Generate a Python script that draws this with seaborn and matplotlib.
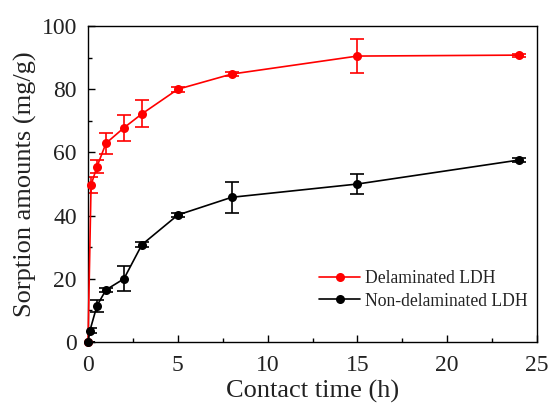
import matplotlib
matplotlib.use("Agg")
import matplotlib.pyplot as plt
from matplotlib.ticker import MultipleLocator
import seaborn as sns
import pandas as pd

# Sorption kinetics of delaminated vs. non-delaminated LDH
time_del = [0, 0.17, 0.5, 1, 2, 3, 5, 8, 15, 24]
sorp_del = [0, 49.7, 55.5, 62.9, 67.8, 72.2, 80.0, 84.8, 90.5, 90.8]
err_del = [0, 2.5, 2.0, 3.3, 4.2, 4.3, 0.8, 0.7, 5.4, 0.5]

time_non = [0, 0.1, 0.5, 1, 2, 3, 5, 8, 15, 24]
sorp_non = [0, 3.5, 11.5, 16.5, 20.0, 30.8, 40.2, 45.8, 50.0, 57.6]
err_non = [0, 0.8, 1.9, 0.6, 4.0, 0.8, 0.6, 4.85, 3.3, 0.6]

labels = ["Delaminated LDH", "Non-delaminated LDH"]
colors = ["#ff0000", "#000000"]

sns.set_theme(style="ticks")
plt.rcParams["font.family"] = ["Liberation Serif", "DejaVu Serif"]

df = pd.concat([
    pd.DataFrame({"t": time_del, "q": sorp_del, "err": err_del, "sample": labels[0]}),
    pd.DataFrame({"t": time_non, "q": sorp_non, "err": err_non, "sample": labels[1]}),
])

fig = plt.figure(figsize=(5.48, 4.07), dpi=100)
ax = fig.add_axes([0.1606, 0.1597, 0.8194, 0.7763])

for lab, col in zip(labels, colors):
    sub = df[df["sample"] == lab]
    ax.errorbar(sub["t"], sub["q"], yerr=sub["err"], fmt="none",
                ecolor=col, elinewidth=1.2, capsize=5, capthick=1.2, zorder=2)
    sns.lineplot(data=sub, x="t", y="q", ax=ax, color=col, marker="o",
                 markersize=6.5, markeredgewidth=0, linewidth=1.2,
                 label=lab, zorder=3, errorbar=None, clip_on=False)

ax.set_xlim(0, 25)
ax.set_ylim(0, 100)
ax.xaxis.set_major_locator(MultipleLocator(5))
ax.xaxis.set_minor_locator(MultipleLocator(2.5))
ax.yaxis.set_major_locator(MultipleLocator(20))
ax.yaxis.set_minor_locator(MultipleLocator(10))
ax.tick_params(which="both", direction="in", top=False, right=False,
               labelsize=17, colors="black", labelcolor="#222222", width=1)
ax.tick_params(which="major", length=5)
ax.tick_params(which="minor", length=3)
ax.tick_params(axis="x", which="major", pad=9)
ax.tick_params(axis="y", which="major", pad=8)
for s in ax.spines.values():
    s.set_linewidth(1.0)
    s.set_color("black")
    s.set_visible(True)

ax.set_xlabel("Contact time (h)", fontsize=19, labelpad=3, color="#222222")
ax.set_ylabel("Sorption amounts (mg/g)", fontsize=19, labelpad=3, color="#222222")

leg = ax.legend(loc="lower right", bbox_to_anchor=(0.995, 0.08), frameon=False,
                fontsize=12.7, handlelength=2.3, handletextpad=0.3,
                labelspacing=0.3, borderaxespad=0)
for t in leg.get_texts():
    t.set_color("#222222")

fig.savefig("out.png", dpi=100)
